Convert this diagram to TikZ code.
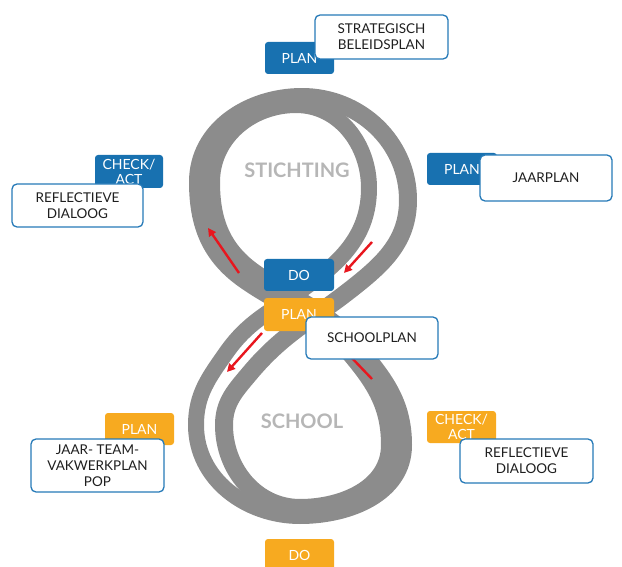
\documentclass[tikz,border=0pt]{standalone}
\usepackage{fontspec}
\setmainfont{Lato}
\usetikzlibrary{arrows.meta}
\definecolor{bblue}{RGB}{24,113,176}
\definecolor{borange}{RGB}{247,170,32}
\definecolor{bline}{RGB}{38,122,184}
\definecolor{rgray}{RGB}{140,140,140}
\definecolor{tgray}{RGB}{182,182,182}
\definecolor{ared}{RGB}{232,22,30}
\tikzset{
  strandL/.style={draw=rgray, line width=16pt, line cap=round, line join=round},
  strandR/.style={draw=rgray, line width=18pt, line cap=round, line join=round},
  bluebox/.style={fill=bblue, rounded corners=3pt, text=white, inner sep=0pt, align=center,
    font=\fontsize{14}{15}\selectfont},
  orangebox/.style={fill=borange, rounded corners=3pt, text=white, inner sep=0pt, align=center,
    font=\fontsize{14}{15}\selectfont},
  labelbox/.style={draw=bline, line width=1.3pt, fill=white, rounded corners=5pt, inner sep=0pt,
    align=center, text=black!88, font=\fontsize{13.5}{16}\selectfont},
  bigtext/.style={text=tgray, font=\fontsize{20}{22}\selectfont\bfseries},
  redarrow/.style={draw=ared, line width=2.4pt, -{Triangle[length=8pt,width=8pt]}},
  redline/.style={draw=ared, line width=2.4pt}
}
\begin{document}
\begin{tikzpicture}[x=1pt,y=1pt]
\useasboundingbox (0,0) rectangle (622,-567);
% figure eight, two strands
\draw[strandL] (369,-188) to[out=90,in=0] (296,-105) to[out=180,in=90] (212,-182)
  to[out=270,in=145] (255,-272) to[out=325,in=130] (358,-346) to[out=310,in=90] (404,-445)
  to[out=270,in=0] (300,-516) to[out=180,in=270] (196,-425)
  to[out=90,in=235] (226,-353) to[out=55,in=215] (300,-291)
  to[out=35,in=270] (369,-188);
\draw[strandR] (408,-200) to[out=90,in=0] (302,-97) to[out=180,in=90] (198,-182)
  to[out=270,in=145] (245,-280) to[out=325,in=130] (350,-353) to[out=310,in=90] (390,-445)
  to[out=270,in=0] (300,-508) to[out=180,in=270] (224,-425)
  to[out=90,in=230] (250,-373) to[out=50,in=218] (350,-290)
  to[out=38,in=270] (408,-200);
% region names
\node[bigtext] (stichting) at (297,-170) {STICHTING};
\node[bigtext] (school) at (302,-421) {SCHOOL};
% red arrows
\coordinate (a1s) at (239,-273); \coordinate (a1e) at (208,-228);
\coordinate (a2s) at (372,-242); \coordinate (a2e) at (344,-273);
\coordinate (a3s) at (262,-333); \coordinate (a3e) at (227,-372);
\coordinate (a4s) at (372,-379); \coordinate (a4e) at (350,-356);
\draw[redarrow] (a1s) -- (a1e);
\draw[redarrow] (a2s) -- (a2e);
\draw[redarrow] (a3s) -- (a3e);
\draw[redline] (a4s) -- (a4e);
% coloured boxes
\node[bluebox, minimum width=69pt, minimum height=32pt] (planTop) at (299.5,-58) {PLAN};
\node[bluebox, minimum width=68pt, minimum height=33pt] (checkTop) at (129,-171.5) {CHECK/\\ACT};
\node[bluebox, minimum width=70pt, minimum height=32pt] (planRight) at (462,-169) {PLAN};
\node[bluebox, minimum width=70pt, minimum height=32pt] (doTop) at (299,-275) {DO};
\node[orangebox, minimum width=70pt, minimum height=33pt] (planMid) at (299,-314.5) {PLAN};
\node[orangebox, minimum width=69pt, minimum height=32pt] (planLeft) at (139.5,-429) {PLAN};
\node[orangebox, minimum width=69pt, minimum height=32pt] (checkRight) at (461.5,-427) {CHECK/\\ACT};
\node[orangebox, minimum width=69pt, minimum height=32pt] (doBottom) at (299.5,-555) {DO};
% white label boxes
\node[labelbox, minimum width=133pt, minimum height=44pt] (strat) at (381.5,-37) {STRATEGISCH\\BELEIDSPLAN};
\node[labelbox, minimum width=131pt, minimum height=43pt] (reflTop) at (77.5,-205.5) {REFLECTIEVE\\DIALOOG};
\node[labelbox, minimum width=132pt, minimum height=46pt] (jaarplan) at (546,-178) {JAARPLAN};
\node[labelbox, minimum width=132pt, minimum height=42pt] (schoolplan) at (372,-338) {SCHOOLPLAN};
\node[labelbox, minimum width=133pt, minimum height=53pt] (jaar) at (97.5,-465.5) {JAAR- TEAM-\\VAKWERKPLAN\\POP};
\node[labelbox, minimum width=133pt, minimum height=44pt] (reflRight) at (526.5,-461) {REFLECTIEVE\\DIALOOG};
\end{tikzpicture}
\end{document}
